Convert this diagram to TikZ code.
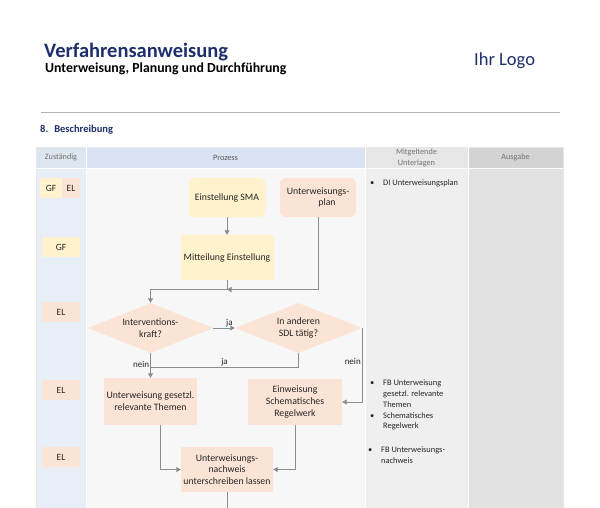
\documentclass[tikz,border=0pt]{standalone}
\usepackage{fontspec}
\setmainfont{Carlito}
\usetikzlibrary{shapes.geometric,arrows.meta}
\definecolor{navy}{HTML}{1F2F6B}
\definecolor{yel}{HTML}{FFF2CC}
\definecolor{peach}{HTML}{FBE4D5}
\definecolor{zhead}{HTML}{DDE5EE}
\definecolor{zbody}{HTML}{E7EEF5}
\definecolor{phead}{HTML}{DAE3F3}
\definecolor{pbody}{HTML}{F7F7F7}
\definecolor{mhead}{HTML}{E6E6E6}
\definecolor{mbody}{HTML}{EFEFEF}
\definecolor{ahead}{HTML}{D3D3D3}
\definecolor{abody}{HTML}{E1E1E1}
\definecolor{arrowgray}{HTML}{8C8C8C}
\newcommand\mybul{\makebox[13pt][l]{\textbullet}}
\newcommand\myind{\hspace*{13pt}}
\tikzset{
  hdr/.style={font=\fontsize{8.2}{10.5}\selectfont, text=black!55, align=center},
  pbox/.style={inner sep=0pt, align=center, font=\fontsize{9.8}{11.8}\selectfont, text=black!85},
  dia/.style={diamond, aspect=2.5, inner sep=0pt, fill=peach, minimum width=125pt, minimum height=50pt, align=center, font=\fontsize{9.8}{11.8}\selectfont, text=black!85},
  role/.style={inner sep=0pt, font=\fontsize{9.5}{11}\selectfont, text=black!85},
  arr/.style={draw=arrowgray, line width=0.9pt, -{Triangle[width=5pt,length=4.5pt]}},
  ln/.style={draw=arrowgray, line width=0.9pt},
  lbl/.style={font=\fontsize{9}{11}\selectfont, text=black!85, inner sep=1pt},
  doc/.style={font=\fontsize{8.4}{10.7}\selectfont, text=black!85, align=left, anchor=north west, inner sep=0pt},
}
\begin{document}
\begin{tikzpicture}[x=1pt,y=-1pt]
\useasboundingbox (0,0) rectangle (600,508);
\fill[white] (0,0) rectangle (600,508);
% header texts
\node[anchor=base west, inner sep=0pt, text=navy, font=\fontsize{20.5}{22}\selectfont\bfseries] (title) at (44,58) {Verfahrensanweisung};
\node[anchor=base west, inner sep=0pt, font=\fontsize{13.8}{15}\selectfont\bfseries] (sub) at (45,73) {Unterweisung, Planung und Durchführung};
\node[anchor=base west, inner sep=0pt, text=navy, font=\fontsize{18.5}{20}\selectfont] (logo) at (474,66) {Ihr Logo};
\draw[black!30, line width=0.7pt] (41,112.5) -- (560,112.5);
\node[anchor=base west, inner sep=0pt, text=navy, font=\fontsize{10.5}{12}\selectfont\bfseries] (sec) at (40,132.5) {8.\hspace{6pt}Beschreibung};
% table
\fill[zbody] (36,168) rectangle (86,508);
\fill[pbody] (86,168) rectangle (365,508);
\fill[mbody] (365,168) rectangle (468,508);
\fill[abody] (468,168) rectangle (563,508);
\fill[zhead] (36,147) rectangle (86,168);
\fill[phead] (86,147) rectangle (365,168);
\fill[mhead] (365,147) rectangle (468,168);
\fill[ahead] (468,147) rectangle (563,168);
\draw[green!10!black!10, line width=0.8pt] (36,508) -- (36,147) -- (563,147) -- (563,508);
\draw[white, line width=0.8pt] (86,147) -- (86,508) (365,147) -- (365,508) (468,147) -- (468,508) (36,168) -- (563,168);
\node[hdr] (hz) at (61,157.5) {Zuständig};
\node[hdr, text=black!65] (hp) at (225.5,157.5) {Prozess};
\node[hdr] (hm) at (416.5,158) {Mitgeltende\\Unterlagen};
\node[hdr] (ha) at (515.5,157.5) {Ausgabe};
% roles
\node[role, fill=yel, minimum width=22pt, minimum height=20pt] (r1) at (51,188) {GF};
\node[role, fill=peach, minimum width=18pt, minimum height=20pt] (r2) at (71,188) {EL};
\node[role, fill=yel, minimum width=38pt, minimum height=20pt] (r3) at (61,247) {GF};
\node[role, fill=peach, minimum width=38pt, minimum height=20pt] (r4) at (61,312) {EL};
\node[role, fill=peach, minimum width=38pt, minimum height=20pt] (r5) at (61,390) {EL};
\node[role, fill=peach, minimum width=38pt, minimum height=20pt] (r6) at (61,457) {EL};
% process nodes
\node[pbox, fill=yel, rounded corners=6pt, minimum width=77pt, minimum height=39pt] (sma) at (227,197.5) {Einstellung SMA};
\node[pbox, fill=peach, rounded corners=6pt, minimum width=76pt, minimum height=39pt] (plan) at (318,197.5) {Unterweisungs-\\\hspace*{18pt}plan};
\node[pbox, fill=yel, minimum width=93pt, minimum height=45pt] (mit) at (227,257.5) {Mitteilung Einstellung};
\node[dia] (d1) at (150.5,328) {Interventions-\\kraft?};
\node[dia, minimum width=127pt] (d2) at (298.5,328) {In anderen\\SDL tätig?};
\node[pbox, fill=peach, minimum width=93pt, minimum height=47pt] (ug) at (150.5,401.5) {Unterweisung gesetzl.\\relevante Themen};
\node[pbox, fill=peach, minimum width=94pt, minimum height=46pt] (einw) at (295,402) {Einweisung\\Schematisches\\Regelwerk};
\node[pbox, fill=peach, minimum width=92pt, minimum height=45pt] (nach) at (227,469.5) {Unterweisungs-\\nachweis\\unterschreiben lassen};
% connectors
\coordinate (j1) at (150.5,289.5);
\coordinate (j2) at (227,289.5);
\coordinate (j3) at (150.5,367);
\coordinate (bot) at (227,510);
\draw[arr] (sma) -- (mit);
\draw[arr] (mit.south) |- (j1) -- (d1.north);
\draw[arr] (plan.south) |- (j2);
\draw[arr] (d1.east) -- node[lbl, pos=0.75, above] {ja} (d2.west);
\draw[ln] (d2.south) |- node[lbl, pos=0.75, above] {ja} (j3);
\draw[arr] (d1.south) -- node[lbl, pos=0.45, left] {nein} (ug.north);
\draw[arr] (d2.east) -- node[lbl, pos=0.45, left] {nein} (d2.east |- einw.east) -- (einw.east);
\draw[arr] ([xshift=10pt]ug.south) |- (nach.west);
\draw[arr] (einw.south) |- (nach.east);
\draw[ln] (nach.south) -- (bot);
% documents
\node[doc] (m1) at (370,179) {\mybul DI Unterweisungsplan};
\node[doc] (m2) at (370,380) {\mybul FB Unterweisung\\\myind gesetzl. relevante\\\myind Themen\\\mybul Schematisches\\\myind Regelwerk};
\node[doc] (m3) at (368,447) {\mybul FB Unterweisungs-\\\myind nachweis};
\end{tikzpicture}
\end{document}
